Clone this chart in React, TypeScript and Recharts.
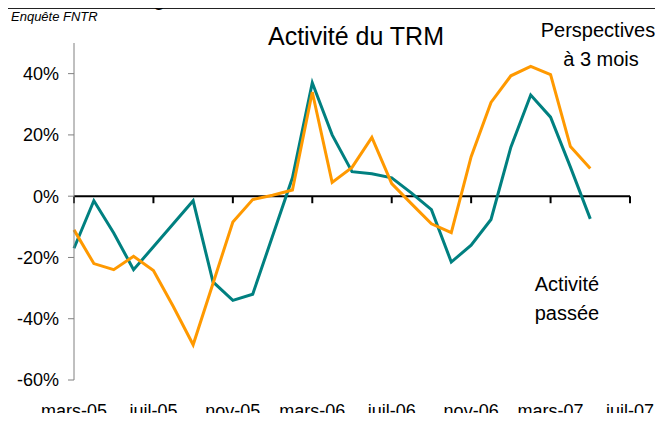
import { LineChart, Line, XAxis, YAxis, ReferenceLine } from 'recharts'

const mois = [
  'mars-05', 'avr-05', 'mai-05', 'juin-05', 'juil-05', 'août-05', 'sept-05', 'oct-05',
  'nov-05', 'déc-05', 'janv-06', 'févr-06', 'mars-06', 'avr-06', 'mai-06', 'juin-06',
  'juil-06', 'août-06', 'sept-06', 'oct-06', 'nov-06', 'déc-06', 'janv-07', 'févr-07',
  'mars-07', 'avr-07', 'mai-07', 'juin-07', 'juil-07',
]

// Activité passée (teal)
const activite = [
  -17, -1.5, -12, -24, -16.5, -9, -1.5, -28, -34, -32, -13, 6, 37, 20, 8, 7.3,
  6, 1, -4.4, -21.5, -16, -7.6, 16, 33, 25.8, 9.5, -7.4,
]

// Perspectives à 3 mois (orange)
const perspectives = [
  -11, -22, -24, -19.6, -24.3, -36, -48.5, -28.5, -8.4, -1.1, 0.3, 2, 34, 4.5, 9.4, 19.2,
  4.1, -2.5, -9, -11.9, 12.9, 30.6, 39.3, 42.4, 39.7, 16.2, 9,
]

const yTicks = [-60, -40, -20, 0, 20, 40]
const tickMois = mois.filter((_, i) => i % 4 === 0)

const data = mois.map((m, i) => ({
  mois: m,
  activite: i < activite.length ? activite[i] : null,
  perspectives: i < perspectives.length ? perspectives[i] : null,
}))

const font = '"Liberation Sans", Arial, sans-serif'

export default function App() {
  return (
    <div style={{ position: 'relative', width: 663, height: 421, margin: -8, overflow: 'hidden', background: '#fff', fontFamily: font }}>
      <div style={{ position: 'absolute', left: 4, top: 8, width: 800, height: 600, borderLeft: '1.5px solid #222', borderTop: '1.5px solid #222' }} />
      <LineChart width={663} height={421} data={data} margin={{ top: 43, right: 33, left: 0, bottom: 0 }}>
        <XAxis
          dataKey='mois'
          interval={3}
          axisLine={false}
          tickLine={false}
          tickSize={6}
          tickMargin={18}
          height={41}
          tick={{ fill: '#000', fontSize: 18, fontFamily: font }}
        />
        <YAxis
          width={74}
          domain={[-60, 50]}
          ticks={yTicks}
          tickFormatter={(v) => `${v}%`}
          stroke='#808080'
          tickSize={6}
          tickMargin={9}
          tick={{ fill: '#000', fontSize: 18, fontFamily: font }}
        />
        <ReferenceLine y={0} stroke='#000' strokeWidth={2} />
        {tickMois.map((m) => (
          <ReferenceLine
            key={m}
            segment={[{ x: m, y: 0 }, { x: m, y: -2.3 }]}
            stroke='#000'
            strokeWidth={2}
          />
        ))}
        <Line dataKey='activite' stroke='#008080' strokeWidth={3} dot={false} isAnimationActive={false} />
        <Line dataKey='perspectives' stroke='#FF9900' strokeWidth={3} dot={false} isAnimationActive={false} />
      </LineChart>
      <svg width={663} height={421} style={{ position: 'absolute', left: 0, top: 0, pointerEvents: 'none' }} fontFamily={font}>
        <text x={153} y={5} fontSize={22}>g</text>
        <text x={11} y={21} fontSize={13} fontStyle='italic'>Enquête FNTR</text>
        <text x={356} y={45} fontSize={25} textAnchor='middle'>Activité du TRM</text>
        <text x={598} y={37} fontSize={20} textAnchor='middle'>Perspectives</text>
        <text x={601} y={66} fontSize={20} textAnchor='middle'>à 3 mois</text>
        <text x={567} y={291} fontSize={20} textAnchor='middle'>Activité</text>
        <text x={567} y={320} fontSize={20} textAnchor='middle'>passée</text>
      </svg>
    </div>
  )
}
